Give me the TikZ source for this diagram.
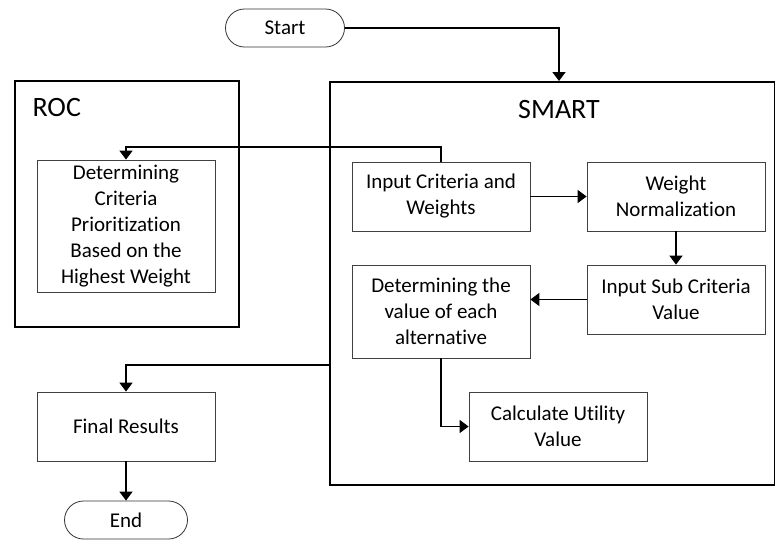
\documentclass[tikz,border=0pt]{standalone}
\usepackage{fontspec}
\setmainfont{Carlito}[Ligatures=NoCommon]
\usetikzlibrary{arrows.meta,calc}
\begin{document}
\begin{tikzpicture}[x=1pt,y=-1pt,
  procbox/.style={draw=black!75, line width=0.8pt, fill=white, minimum width=178pt, align=center, font=\fontsize{21}{26}\selectfont, inner sep=1pt},
  groupbox/.style={draw=black, line width=1.6pt},
  terminal/.style={draw=black!80, line width=0.8pt, rounded corners=19pt, minimum height=38pt, font=\fontsize{21}{24}\selectfont},
  conn/.style={draw=black, line width=1.6pt, -{Triangle[width=13pt,length=9pt]}},
  plainconn/.style={draw=black, line width=1.6pt}]
\useasboundingbox (0,0) rectangle (775,539);
% group boxes
\node[groupbox, minimum width=224pt, minimum height=246pt, anchor=north west, inner sep=0pt] (roc) at (14,80) {};
\node[groupbox, minimum width=445pt, minimum height=403pt, anchor=north west, inner sep=0pt] (smart) at (329,81) {};
\node[font=\fontsize{28}{30}\selectfont, anchor=west] (roclbl) at (29,108) {ROC};
\node[font=\fontsize{28}{30}\selectfont] (smartlbl) at (559,110) {SMART};
% terminals
\node[terminal, minimum width=119pt] (start) at (285,28) {Start};
\node[terminal, minimum width=123pt] (end) at (126,520) {End};
% process boxes
\node[procbox, minimum height=132pt] (prio) at (126,226) {Determining\\Criteria\\Prioritization\\Based on the\\Highest Weight};
\node[procbox, minimum height=69pt] (input) at (441,196.5) {Input Criteria and\\Weights};
\node[procbox, minimum height=69pt] (norm) at (676,196.5) {Weight\\Normalization};
\node[procbox, minimum height=69pt] (sub) at (676,299.5) {Input Sub Criteria\\Value};
\node[procbox, minimum height=93pt] (detval) at (441,311.5) {Determining the\\value of each\\alternative};
\node[procbox, minimum height=69pt] (util) at (558,426.5) {Calculate Utility\\Value};
\node[procbox, minimum height=69pt] (final) at (126,426.5) {Final Results};
% helper coordinates
\coordinate (smarttop) at (559,81);
\coordinate (smartleft) at (329,365);
% connectors
\draw[conn] (start.east) -| (smarttop);
\draw[conn] (input.north) |- (126,147) -- (prio.north);
\draw[conn] (input.east) -- (norm.west);
\draw[conn] (norm.south) -- (sub.north);
\draw[conn] (sub.west |- 0,299.5) -- (detval.east |- 0,299.5);
\draw[conn] (detval.south) |- (util.west);
\draw[conn] (smartleft) -| (final.north);
\draw[conn] (final.south) -- (end.north);
\end{tikzpicture}
\end{document}
